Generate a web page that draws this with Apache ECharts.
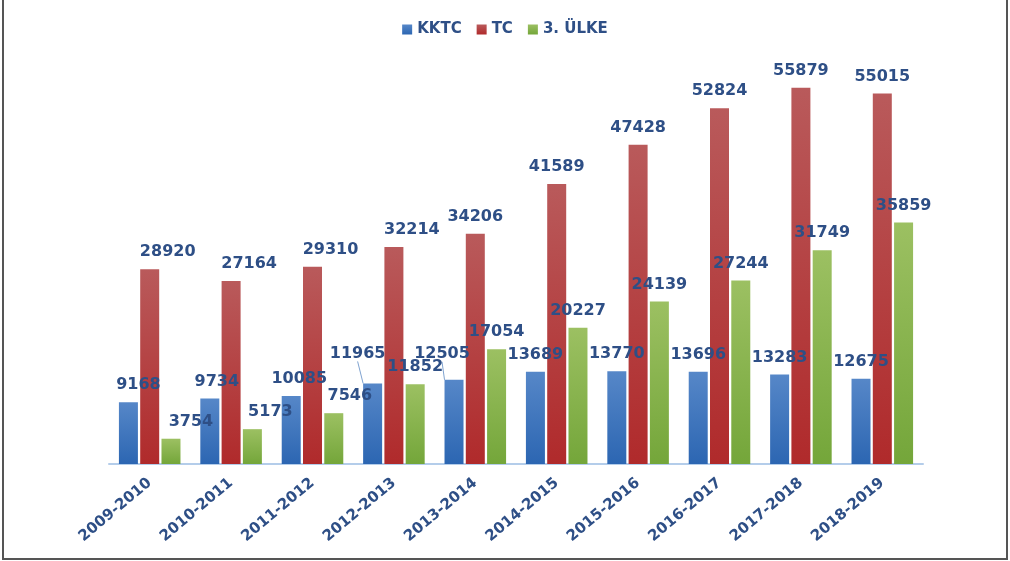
<!DOCTYPE html>
<html>
<head>
<meta charset="utf-8">
<script src="https://cdn.jsdelivr.net/npm/echarts@6/dist/echarts.min.js"></script>
<style>
html,body{margin:0;padding:0;background:#fff;}
#chart{width:1010px;height:561px;}
</style>
</head>
<body>
<div id="chart"></div>
<script>
// data
const years=["2009-2010","2010-2011","2011-2012","2012-2013","2013-2014","2014-2015","2015-2016","2016-2017","2017-2018","2018-2019"];
const kktc=[9168,9734,10085,11965,12505,13689,13770,13696,13283,12675];
const tc=[28920,27164,29310,32214,34206,41589,47428,52824,55879,55015];
const ulke3=[3754,5173,7546,11852,17054,20227,24139,27244,31749,35859];

const labelColor="#2e4f86";
const font="DejaVu Sans";

// label nudges, like the hand-moved labels in the source chart
const nudges={
    "0-0":[10,0],"0-1":[7,0],"0-2":[8,0],"0-3":[-15,-13],"0-4":[-12,-9],
    "1-0":[18,0],"1-1":[18,0],"1-2":[18,0],"1-3":[18,0],
    "2-0":[20,0],"2-1":[18,0],"2-2":[16,0]
};
const leaders=[3,4];

function grad(top,bottom){
    return new echarts.graphic.LinearGradient(0,0,0,1,[
        {offset:0,color:top},
        {offset:1,color:bottom}
    ]);
}

function makeSeries(name,values,top,bottom,idx){
    return {
        name:name,
        type:"bar",
        barWidth:19,
        barGap:"12%",
        data:values.map((v,i)=>({
            value:v,
            labelLine:{show:idx===0&&leaders.includes(i)}
        })),
        itemStyle:{color:grad(top,bottom)},
        label:{
            show:true,
            position:"top",
            distance:9,
            color:labelColor,
            fontFamily:font,
            fontWeight:"bold",
            fontSize:16
        },
        labelLine:{
            show:false,
            lineStyle:{color:"#7fa3d0",width:1}
        },
        labelLayout:function(p){
            const n=nudges[idx+"-"+p.dataIndex];
            if(!n){return {};}
            return {dx:n[0],dy:n[1]};
        }
    };
}

const chart=echarts.init(document.getElementById("chart"));

chart.setOption({
    backgroundColor:"#ffffff",
    animation:false,
    color:["#3c6fbf","#c0393b","#7fb24a"],
    legend:{
        top:17,
        left:"center",
        itemWidth:10,
        itemHeight:10,
        itemGap:15,
        icon:"rect",
        textStyle:{
            color:labelColor,
            fontFamily:font,
            fontWeight:"bold",
            fontSize:15
        },
        data:["KKTC","TC","3. ÜLKE"]
    },
    grid:{
        left:109,
        right:87,
        top:60,
        bottom:97
    },
    xAxis:{
        type:"category",
        data:years,
        axisLine:{lineStyle:{color:"#b4cdea",width:2}},
        axisTick:{show:false},
        axisLabel:{
            rotate:40,
            margin:17,
            color:labelColor,
            fontFamily:font,
            fontWeight:"bold",
            fontSize:15
        }
    },
    yAxis:{
        type:"value",
        min:0,
        max:60000,
        show:false,
        splitLine:{show:false}
    },
    series:[
        makeSeries("KKTC",kktc,"#5687c8","#2c66b2",0),
        makeSeries("TC",tc,"#b95a5b","#b02a2b",1),
        makeSeries("3. ÜLKE",ulke3,"#9cc062","#74a63a",2)
    ],
    graphic:[
        {type:"line",shape:{x1:3,y1:0,x2:3,y2:559},style:{stroke:"#555",lineWidth:2}},
        {type:"line",shape:{x1:1007,y1:0,x2:1007,y2:559},style:{stroke:"#555",lineWidth:2}},
        {type:"line",shape:{x1:2,y1:559,x2:1008,y2:559},style:{stroke:"#555",lineWidth:2}}
    ]
});
</script>
</body>
</html>
